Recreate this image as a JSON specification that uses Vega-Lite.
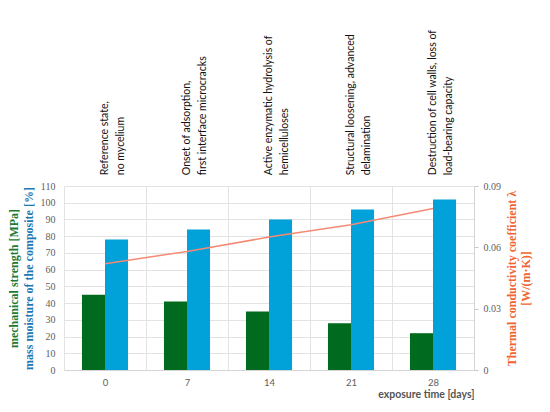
{
  "$schema": "https://vega.github.io/schema/vega-lite/v6.json",
  "width": 410,
  "height": 184,
  "autosize": {"type": "none"},
  "padding": {"left": 64, "top": 186, "right": 76, "bottom": 42},
  "background": "white",
  "config": {
    "view": {"stroke": null},
    "axis": {
      "gridColor": "#E3E3E3",
      "domainColor": "#D4D4D4",
      "tickColor": "#C8C8C8",
      "labelColor": "#606060"
    }
  },
  "datasets": {
    "bars": [
      {"day": 0, "series": "mechanical strength", "value": 45},
      {"day": 0, "series": "mass moisture", "value": 78},
      {"day": 7, "series": "mechanical strength", "value": 41},
      {"day": 7, "series": "mass moisture", "value": 84},
      {"day": 14, "series": "mechanical strength", "value": 35},
      {"day": 14, "series": "mass moisture", "value": 90},
      {"day": 21, "series": "mechanical strength", "value": 28},
      {"day": 21, "series": "mass moisture", "value": 96},
      {"day": 28, "series": "mechanical strength", "value": 22},
      {"day": 28, "series": "mass moisture", "value": 102}
    ],
    "lambda": [
      {"day": 0, "lambda": 0.052},
      {"day": 7, "lambda": 0.058},
      {"day": 14, "lambda": 0.065},
      {"day": 21, "lambda": 0.071},
      {"day": 28, "lambda": 0.079}
    ],
    "notes": [
      {"day": 0, "note": ["Reference state,", "no mycelium"]},
      {"day": 7, "note": ["Onset of adsorption,", "first interface microcracks"]},
      {"day": 14, "note": ["Active enzymatic hydrolysis of", "hemicelluloses"]},
      {"day": 21, "note": ["Structural loosening, advanced", "delamination"]},
      {"day": 28, "note": ["Destruction of cell walls, loss of", "load-bearing capacity"]}
    ]
  },
  "encoding": {
    "x": {
      "field": "day",
      "type": "ordinal",
      "scale": {"paddingInner": 0, "paddingOuter": 0},
      "axis": {
        "title": "exposure time [days]",
        "titleAnchor": "end",
        "titleFont": "Lato",
        "titleFontSize": 10.5,
        "titleFontWeight": "bold",
        "titleColor": "#555555",
        "titlePadding": 3,
        "labelAngle": 0,
        "labelFont": "Lato",
        "labelFontSize": 9.5,
        "labelPadding": 7,
        "ticks": false,
        "grid": true,
        "tickBand": "extent"
      }
    }
  },
  "layer": [
    {
      "data": {"name": "bars"},
      "mark": {"type": "bar"},
      "encoding": {
        "xOffset": {
          "field": "series",
          "sort": ["mechanical strength", "mass moisture"],
          "scale": {"paddingInner": 0, "paddingOuter": 0.78}
        },
        "y": {
          "field": "value",
          "type": "quantitative",
          "scale": {"domain": [0, 110]},
          "axis": {
            "orient": "left",
            "values": [0, 10, 20, 30, 40, 50, 60, 70, 80, 90, 100, 110],
            "domain": false,
            "ticks": false,
            "labelFont": "Liberation Serif",
            "labelFontSize": 10,
            "labelPadding": 9,
            "title": "mass moisture of the composite [%]",
            "titleFont": "Liberation Serif",
            "titleFontSize": 12,
            "titleFontWeight": "bold",
            "titleColor": "#1B78B4",
            "titlePadding": 5
          }
        },
        "color": {
          "field": "series",
          "scale": {
            "domain": ["mechanical strength", "mass moisture"],
            "range": ["#006B1E", "#00A2D9"]
          },
          "legend": null
        }
      }
    },
    {
      "data": {"name": "lambda"},
      "mark": {"type": "line", "color": "#F58A74", "strokeWidth": 1.5},
      "encoding": {
        "y": {
          "field": "lambda",
          "type": "quantitative",
          "scale": {"domain": [0, 0.09]},
          "axis": {
            "orient": "right",
            "values": [0, 0.03, 0.06, 0.09],
            "format": ".2~f",
            "grid": false,
            "domain": true,
            "ticks": true,
            "tickSize": 4,
            "labelFont": "Liberation Serif",
            "labelFontSize": 10,
            "labelPadding": 5,
            "title": ["Thermal conductivity coefficient λ", "[W/(m·K)]"],
            "titleAngle": 270,
            "titleFont": "Liberation Serif",
            "titleFontSize": 12,
            "titleFontWeight": "bold",
            "titleColor": "#F0652F",
            "titleLineHeight": 14,
            "titlePadding": 4
          }
        }
      }
    },
    {
      "data": {"name": "notes"},
      "mark": {
        "type": "text",
        "angle": 270,
        "align": "left",
        "baseline": "middle",
        "font": "Lato",
        "fontSize": 10.5,
        "lineHeight": 16,
        "color": "#111111"
      },
      "encoding": {
        "text": {"field": "note"},
        "y": {
          "datum": 116.5,
          "type": "quantitative",
          "scale": {"domain": [0, 110]},
          "axis": {
            "orient": "left",
            "offset": 42,
            "labels": false,
            "ticks": false,
            "domain": false,
            "grid": false,
            "title": "mechanical strength [MPa]",
            "titleFont": "Liberation Serif",
            "titleFontSize": 12,
            "titleFontWeight": "bold",
            "titleColor": "#1D7A34",
            "titlePadding": 2
          }
        }
      }
    }
  ],
  "resolve": {"scale": {"y": "independent"}, "axis": {"y": "independent"}}
}
